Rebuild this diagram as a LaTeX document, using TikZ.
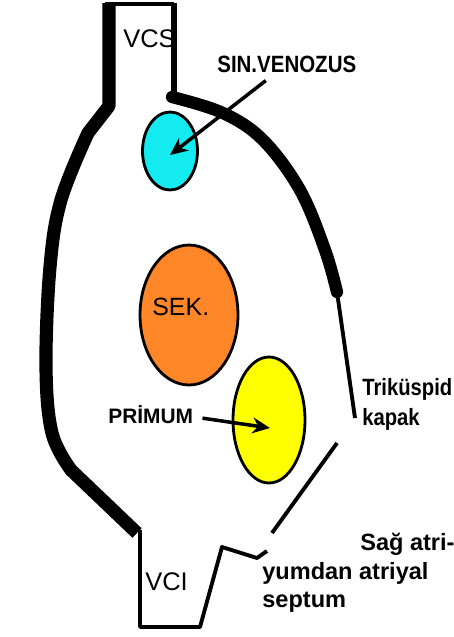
\documentclass[tikz,border=0pt]{standalone}
\usepackage{fontspec}
\setmainfont{Liberation Sans}
\newfontfamily\narrowfont[FakeStretch=0.87]{Liberation Sans}
\newfontfamily\valvefont[FakeStretch=0.86]{Liberation Sans}
\usepackage{tikz}
\usetikzlibrary{arrows.meta,shapes.geometric}
\definecolor{sinuscol}{RGB}{20,235,240}
\definecolor{sekcol}{RGB}{255,135,40}
\definecolor{primcol}{RGB}{255,255,0}

\begin{document}
\begin{tikzpicture}[x=0.02cm,y=-0.02cm,>={Stealth[length=10pt,width=9pt]},
  wall/.style={line width=7.5pt,line join=round},
  thin wall/.style={line width=2.2pt,line join=round},
  hole/.style={ellipse,draw,line width=1.6pt,inner sep=0pt},
  tag/.style={inner sep=0pt,anchor=base west,font=\bfseries\fontsize{13.4}{17}\selectfont},
  vein/.style={inner sep=0pt,anchor=base west,font=\fontsize{14.5}{17}\selectfont},
  pointer/.style={->,line width=2pt}]
  \useasboundingbox (0,0) rectangle (454,637);

  % the three openings
  \node[hole,fill=sinuscol,minimum width=1.1cm,minimum height=1.56cm] (sinus) at (170,151) {};
  \node[hole,fill=sekcol,minimum width=1.96cm,minimum height=2.8cm] (sek) at (189,315) {};
  \node[hole,fill=primcol,minimum width=1.44cm,minimum height=2.52cm] (primum) at (269,420) {};

  % vena cava superior
  \draw[line width=2.3pt] (105,4) -- (174,4);
  \draw[line width=3.4pt] (174,3) -- (174,97);
  % atrium walls
  \draw[wall] (109,3) -- (109,106) -- plot[smooth,tension=0.6] coordinates {(88,133) (61,200) (50,267) (46,367) (52,433) (71,470)} -- (137,533);
  \draw[wall,line width=7pt,line cap=round] plot[smooth,tension=0.6] coordinates {(172,97) (223,113) (263,140) (300,190) (325,250) (337,292)};
  \draw[thin wall] (337,292) -- (355,418);
  % vena cava inferior and septum
  \draw[thin wall] (140,530) -- (140,627) -- (200,627) -- (222,547) -- (257,558) -- (267,551);
  \draw[thin wall] (272,533) -- (337,443);

  \node[vein] (vcs) at (123,47) {VCS};
  \node[vein] (vci) at (145,590) {VCI};
  \node[vein,font=\fontsize{14.2}{17}\selectfont] (seklabel) at (152,315) {SEK.};
  \node[tag,font=\narrowfont\bfseries\fontsize{13.4}{17}\selectfont] (sinlabel) at (217,72) {SIN.VENOZUS};
  \node[tag,font=\bfseries\fontsize{11.9}{14}\selectfont] (primlabel) at (108,423) {PRİMUM};
  \node[tag,anchor=north west,align=left,font=\valvefont\bfseries\fontsize{13.4}{17}\selectfont] (valve) at (362,378) {Triküspid\\kapak};
  \node[tag] (septum1) at (360,550) {Sağ atri-};
  \node[tag] (septum2) at (262,579) {yumdan atriyal};
  \node[tag] (septum3) at (262,607) {septum};

  \path[pointer]
    ([shift={(-21,8)}]sinlabel.south) edge ([shift={(0,4)}]sinus.center)
    ([shift={(9,4)}]primlabel.east) edge ([shift={(1,8)}]primum.center);
\end{tikzpicture}
\end{document}
